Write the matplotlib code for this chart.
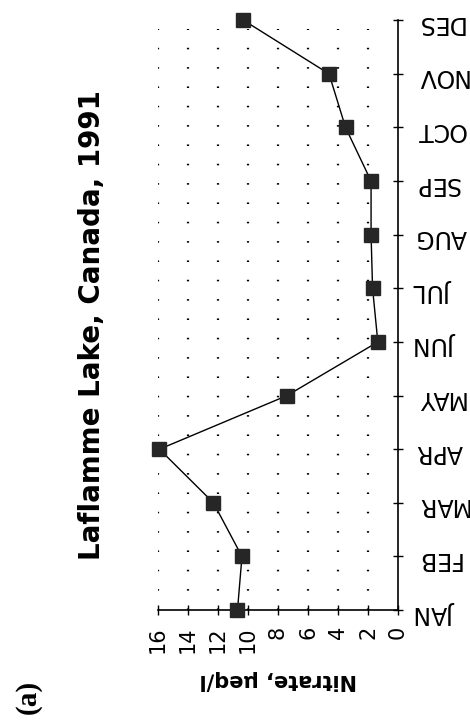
import matplotlib
matplotlib.use("Agg")
from matplotlib import pyplot as plt

months = ["JAN", "FEB", "MAR", "APR", "MAY", "JUN",
          "JUL", "AUG", "SEP", "OCT", "NOV", "DES"]
nitrate = [10.7, 10.4, 12.3, 15.9, 7.4, 1.35, 1.7, 1.8, 1.8, 3.5, 4.6, 10.3]
nitrate_ticks = [0, 2, 4, 6, 8, 10, 12, 14, 16]

fig = plt.figure(figsize=(4.7, 7.22), dpi=100)
ax = fig.add_axes([0.336, 0.155, 0.511, 0.817])

pos = list(range(len(months)))
ax.plot(nitrate, pos, color="black", lw=1.0, marker="s", ms=9.5,
        mfc="#262626", mec="#262626", zorder=3, clip_on=False)

ax.set_xlim(16, 0)
ax.set_ylim(0, len(months) - 1)

# dotted vertical grid
for v in nitrate_ticks[1:]:
    ax.axvline(v, ymax=0.985, color="black", lw=1.6, ls=(0, (0.7, 8.0)), zorder=1)

ax.spines["top"].set_visible(False)
ax.spines["left"].set_visible(False)
ax.spines["right"].set_linewidth(1.2)
ax.spines["bottom"].set_linewidth(1.2)

ax.yaxis.tick_right()
ax.set_yticks(pos)
ax.set_yticklabels(months, rotation=180, fontsize=17)
ax.set_xticks(nitrate_ticks)
ax.set_xticklabels([str(v) for v in nitrate_ticks], rotation=90, fontsize=15)
ax.tick_params(axis="y", direction="inout", length=7, width=1, pad=9)
ax.tick_params(axis="x", direction="inout", length=7, width=1, pad=8)

fig.text(0.591, 0.058, "Nitrate, µeq/l", rotation=180, ha="center",
         va="center", fontsize=15, fontweight="bold")
fig.text(0.196, 0.55, "Laflamme Lake, Canada, 1991", rotation=90,
         ha="center", va="center", fontsize=20, fontweight="bold")
fig.text(0.06, 0.035, "(a)", rotation=90, ha="center", va="center",
         fontsize=21, fontweight="bold", family="Liberation Serif")

fig.savefig("out.png", dpi=100)
